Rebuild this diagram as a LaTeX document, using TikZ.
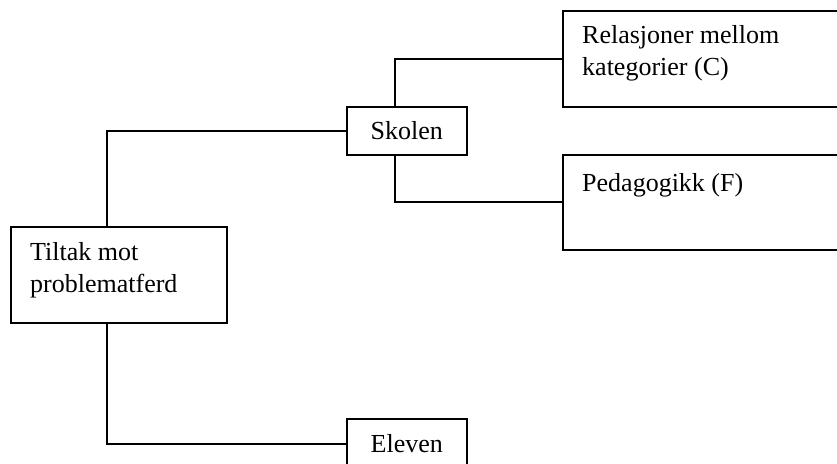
\documentclass[tikz,border=0pt]{standalone}
\usepackage{fontspec}
\setmainfont{Liberation Serif}
\usetikzlibrary{calc}
\begin{document}
\begin{tikzpicture}[x=1pt,y=1pt,
  box/.style={draw=black, line width=1.6pt, rectangle, inner sep=0pt, anchor=north west},
  link/.style={draw=black, line width=1.6pt},
  boxtext/.style={anchor=base west, inner sep=0pt, font=\fontsize{26}{32}\selectfont},
  every node/.append style={font=\fontsize{26}{32}\selectfont}]
  \useasboundingbox (0,0) rectangle (837,463);
  \fill[white] (0,0) rectangle (837,463);

  % boxes
  \node[box, minimum width=216pt, minimum height=96pt] (tiltak) at (10,237) {};
  \node[box, minimum width=120pt, minimum height=48pt] (skolen) at (346,357) {Skolen};
  \node[box, minimum width=290pt, minimum height=96pt] (relasjoner) at (562,453) {};
  \node[box, minimum width=290pt, minimum height=95pt] (pedagogikk) at (562,309) {};
  \node[box, minimum width=120pt, minimum height=50pt, text depth=-6pt] (eleven) at (346,45) {Eleven};

  % box texts
  \node[boxtext] (tiltakTxt) at ($(tiltak.north west)+(20,-35)$)
    {\parbox[t]{200pt}{\raggedright Tiltak mot\\problematferd}};
  \node[boxtext] (relasjonerTxt) at ($(relasjoner.north west)+(20,-34)$)
    {\parbox[t]{250pt}{\raggedright Relasjoner mellom\\kategorier (C)}};
  \node[boxtext] (pedagogikkTxt) at ($(pedagogikk.north west)+(20,-38)$)
    {Pedagogikk (F)};

  % connectors
  \draw[link] ([xshift=-12pt]tiltak.north) |- (skolen.west);
  \draw[link] ([xshift=-12pt]tiltak.south) |- (eleven.west);
  \draw[link] ([xshift=-12pt]skolen.north) |- (relasjoner.west);
  \draw[link] ([xshift=-12pt]skolen.south) |- (pedagogikk.west);
\end{tikzpicture}
\end{document}
